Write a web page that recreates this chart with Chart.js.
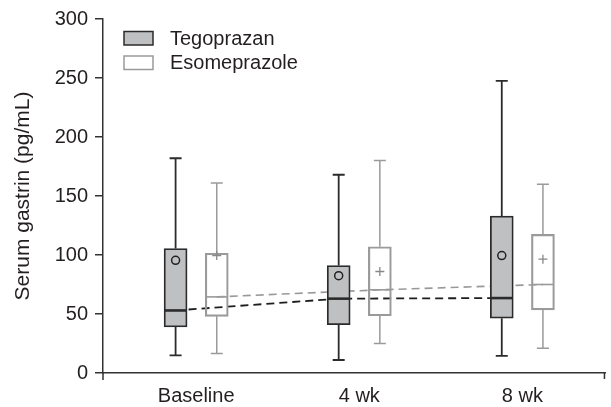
<!DOCTYPE html>
<html>
<head>
<meta charset="utf-8">
<script src="https://cdn.jsdelivr.net/npm/chart.js@4"></script>
<style>
html,body{margin:0;padding:0;background:#fff;}
#wrap{width:611px;height:407px;position:relative;}
</style>
</head>
<body>
<div id="wrap"><canvas id="c" width="611" height="407"></canvas></div>
<script>
// ---- data ----
const categories = ['Baseline', '4 wk', '8 wk'];
const yTicks = [0, 50, 100, 150, 200, 250, 300];

const tegoMin    = [15, 11, 14.5];
const tegoQ1     = [39, 41, 46.5];
const tegoMedian = [53, 63, 63.5];
const tegoQ3     = [105.5, 91, 133];
const tegoMax    = [182, 168, 247.5];
const tegoMean   = [95.5, 82.5, 99.5];

const esoMin     = [16.5, 25, 21];
const esoQ1      = [48, 48.5, 53.5];
const esoMedian  = [64.5, 70.5, 75];
const esoQ3      = [101.5, 107, 117.5];
const esoMax     = [161, 180, 160];
const esoMean    = [99.5, 86, 96.5];

const seriesNames = ['Tegoprazan', 'Esomeprazole'];

// ---- styling ----
const FONT = "'Liberation Sans', Arial, Helvetica, sans-serif";
const OFF = 0.1262;          // group offset in category units
const TEGO_FILL = '#bfc0c2';
const TEGO_LINE = '#2b2b2b';
const ESO_LINE = '#9a9a9a';

const series = [
  {name: seriesNames[0], off: -OFF, min: tegoMin, q1: tegoQ1, med: tegoMedian, q3: tegoQ3, max: tegoMax, mean: tegoMean,
   color: TEGO_LINE, fill: TEGO_FILL, lw: 1.8, medW: 2.6},
  {name: seriesNames[1], off: OFF, min: esoMin, q1: esoQ1, med: esoMedian, q3: esoQ3, max: esoMax, mean: esoMean,
   color: ESO_LINE, fill: 'rgba(255,255,255,0)', lw: 1.5, medW: 1.6}
];

const pts = (s, arr) => categories.map((c, i) => ({x: i + s.off, y: arr[i]}));
const boxPts = s => categories.map((c, i) => ({x: i + s.off, y: [s.q1[i], s.q3[i]]}));

const BOX_W = 23, CAP_W = 12;

const boxPlugin = {
  id: 'boxExtras',
  beforeDatasetsDraw(chart) {
    const {ctx, scales: {x, y}} = chart;
    ctx.save();
    series.forEach(s => {
      ctx.strokeStyle = s.color;
      ctx.lineWidth = s.lw;
      categories.forEach((c, i) => {
        const px = x.getPixelForValue(i + s.off);
        const yMax = y.getPixelForValue(s.max[i]);
        const yQ3 = y.getPixelForValue(s.q3[i]);
        const yQ1 = y.getPixelForValue(s.q1[i]);
        const yMin = y.getPixelForValue(s.min[i]);
        ctx.beginPath();
        ctx.moveTo(px, yQ3); ctx.lineTo(px, yMax);
        ctx.moveTo(px - CAP_W / 2, yMax); ctx.lineTo(px + CAP_W / 2, yMax);
        ctx.moveTo(px, yQ1); ctx.lineTo(px, yMin);
        ctx.moveTo(px - CAP_W / 2, yMin); ctx.lineTo(px + CAP_W / 2, yMin);
        ctx.stroke();
      });
    });
    ctx.restore();
  },
  afterDatasetsDraw(chart) {
    const {ctx, scales: {x, y}} = chart;
    ctx.save();
    series.forEach(s => {
      ctx.strokeStyle = s.color;
      ctx.lineWidth = s.medW;
      categories.forEach((c, i) => {
        const px = x.getPixelForValue(i + s.off);
        const ym = y.getPixelForValue(s.med[i]);
        ctx.beginPath();
        ctx.moveTo(px - BOX_W / 2 + 0.5, ym); ctx.lineTo(px + BOX_W / 2 - 0.5, ym);
        ctx.stroke();
      });
    });
    ctx.restore();
  },
  afterDraw(chart) {
    const {ctx, chartArea: a} = chart;
    ctx.save();
    // axis end ticks
    ctx.strokeStyle = '#333';
    ctx.lineWidth = 1.5;
    ctx.beginPath();
    ctx.moveTo(a.left, a.bottom); ctx.lineTo(a.left, a.bottom + 7);
    ctx.moveTo(a.right - 0.75, a.bottom); ctx.lineTo(a.right - 0.75, a.bottom + 6);
    ctx.stroke();
    // legend
    const lx = 124, rows = [31.5, 56];
    series.forEach((s, k) => {
      ctx.fillStyle = k === 0 ? TEGO_FILL : '#fff';
      ctx.fillRect(lx, rows[k], 29, 13.5);
      ctx.strokeStyle = s.color;
      ctx.lineWidth = 1.5;
      ctx.strokeRect(lx, rows[k], 29, 13.5);
      ctx.fillStyle = '#231f20';
      ctx.font = '20px ' + FONT;
      ctx.textBaseline = 'middle';
      ctx.textAlign = 'left';
      ctx.fillText(s.name, 170, rows[k] + 7.5);
    });
    ctx.restore();
  }
};

const datasets = [];
series.forEach((s, k) => {
  datasets.push({
    type: 'line', label: s.name + ' median', data: pts(s, s.med),
    borderColor: k === 0 ? '#1e1e1e' : '#999', borderWidth: k === 0 ? 1.8 : 1.6,
    borderDash: [8, 5], pointRadius: 0, fill: false, order: 3
  });
});
series.forEach((s, k) => {
  datasets.push({
    type: 'bar', label: s.name, data: boxPts(s),
    backgroundColor: s.fill, borderColor: s.color, borderWidth: k === 0 ? 1.8 : 1.5,
    borderSkipped: false, barThickness: BOX_W, grouped: false, order: 2
  });
});
series.forEach((s, k) => {
  datasets.push({
    type: 'scatter', label: s.name + ' mean', data: pts(s, s.mean),
    pointStyle: k === 0 ? 'circle' : 'cross', pointRadius: k === 0 ? 4 : 4.5,
    borderColor: k === 0 ? '#222' : '#888', backgroundColor: 'rgba(0,0,0,0)',
    pointBorderWidth: k === 0 ? 1.5 : 1.3, order: 1
  });
});

new Chart(document.getElementById('c'), {
  type: 'bar',
  data: {datasets},
  plugins: [boxPlugin],
  options: {
    responsive: false,
    animation: false,
    events: [],
    layout: {padding: {top: 12, right: 3, left: 0, bottom: 0}},
    plugins: {legend: {display: false}, tooltip: {enabled: false}, title: {display: false}},
    scales: {
      x: {
        type: 'linear', min: -0.5713, max: 2.508, offset: false, bounds: 'data',
        afterBuildTicks: sc => { sc.ticks = categories.map((c, i) => ({value: i})); },
        afterFit: sc => { sc.height = 34; },
        grid: {display: true, drawOnChartArea: false, drawTicks: false, offset: false},
        border: {display: true, color: '#333', width: 1.5},
        ticks: {
          autoSkip: false, maxRotation: 0, padding: 11, color: '#231f20',
          font: {family: FONT, size: 20},
          callback: v => categories[v] ?? ''
        }
      },
      y: {
        type: 'linear', min: 0, max: 300,
        afterBuildTicks: sc => { sc.ticks = yTicks.map(v => ({value: v})); },
        afterFit: sc => { sc.width = 103; },
        grid: {display: true, drawOnChartArea: false, drawTicks: true, tickLength: 8, color: '#333', lineWidth: 1.5},
        border: {display: true, color: '#333', width: 1.5},
        ticks: {padding: 7, color: '#231f20', font: {family: FONT, size: 20}},
        title: {display: true, text: 'Serum gastrin (pg/mL)', color: '#231f20',
                font: {family: FONT, size: 21}, padding: {top: 11, bottom: 0}}
      }
    }
  }
});
</script>
</body>
</html>
